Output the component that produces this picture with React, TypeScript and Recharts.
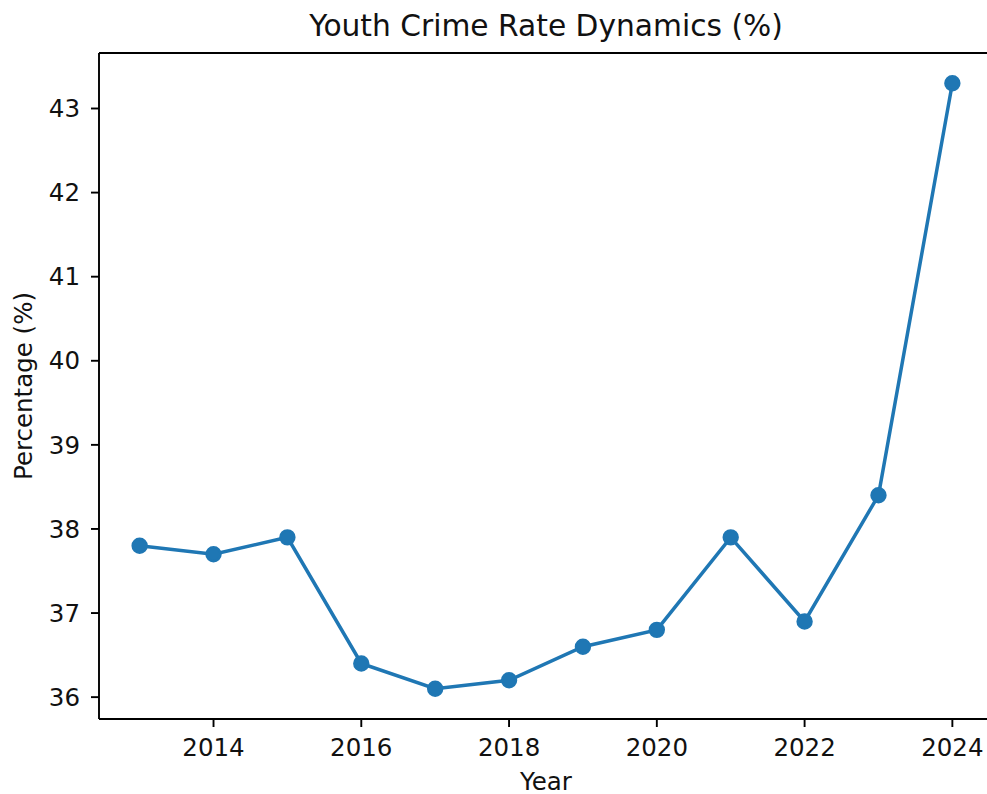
import { Label, Line, LineChart, ReferenceLine, XAxis, YAxis } from "recharts"

// Youth crime rate by year (%)
const years = [2013, 2014, 2015, 2016, 2017, 2018, 2019, 2020, 2021, 2022, 2023, 2024]
const rates = [37.8, 37.7, 37.9, 36.4, 36.1, 36.2, 36.6, 36.8, 37.9, 36.9, 38.4, 43.3]

const xTicks = [2014, 2016, 2018, 2020, 2022, 2024]
const yTicks = [36, 37, 38, 39, 40, 41, 42, 43]

const xDomain: [number, number] = [2012.45, 2024.55]
const yDomain: [number, number] = [35.74, 43.66]

const data = years.map((year, i) => ({ year, rate: rates[i] }))

const font = "'DejaVu Sans', sans-serif"
const textColor = "#111"
const tickStyle = { fontSize: 24.5, fill: textColor, fontFamily: font }
const spine = { stroke: "#000", strokeWidth: 1.9 }

function YLabel(props: any) {
  const vb = props.viewBox || { x: 0, y: 53, width: 99, height: 666 }
  const x = vb.x + 32
  const y = vb.y + vb.height / 2
  return (
    <text
      x={x}
      y={y}
      transform={`rotate(-90, ${x}, ${y})`}
      textAnchor="middle"
      fontSize={24.5}
      fontFamily={font}
      fill={textColor}
    >
      Percentage (%)
    </text>
  )
}

export default function App() {
  return (
    <div
      style={{
        position: "fixed",
        left: 0,
        top: 0,
        width: 987,
        height: 794,
        overflow: "hidden",
        background: "#fff",
      }}
    >
      <LineChart width={1000} height={794} data={data} margin={{ top: 53, right: 7, bottom: 0, left: 0 }}>
        <XAxis
          dataKey="year"
          type="number"
          domain={xDomain}
          ticks={xTicks}
          allowDataOverflow
          height={75}
          tickSize={8}
          tickMargin={11.5}
          tick={tickStyle}
          axisLine={spine}
          tickLine={spine}
        >
          <Label
            value="Year"
            position="insideBottom"
            offset={4}
            style={{ fontSize: 24.5, fill: textColor, fontFamily: font }}
          />
        </XAxis>
        <YAxis
          type="number"
          domain={yDomain}
          ticks={yTicks}
          allowDataOverflow
          width={99}
          tickSize={8}
          tickMargin={11}
          tick={tickStyle}
          axisLine={spine}
          tickLine={spine}
        >
          <Label content={YLabel} />
        </YAxis>
        <ReferenceLine
          y={yDomain[1]}
          stroke="#000"
          strokeWidth={1.9}
          label={{
            value: "Youth Crime Rate Dynamics (%)",
            position: "top",
            offset: 17,
            style: { fontSize: 29.7, fill: textColor, fontFamily: font },
          }}
        />
        <ReferenceLine x={xDomain[1]} stroke="#000" strokeWidth={1.9} />
        <Line
          dataKey="rate"
          stroke="#1f77b4"
          strokeWidth={3.5}
          dot={{ r: 7, fill: "#1f77b4", stroke: "#1f77b4", strokeWidth: 2.4 }}
          activeDot={false}
          isAnimationActive={false}
        />
      </LineChart>
    </div>
  )
}
